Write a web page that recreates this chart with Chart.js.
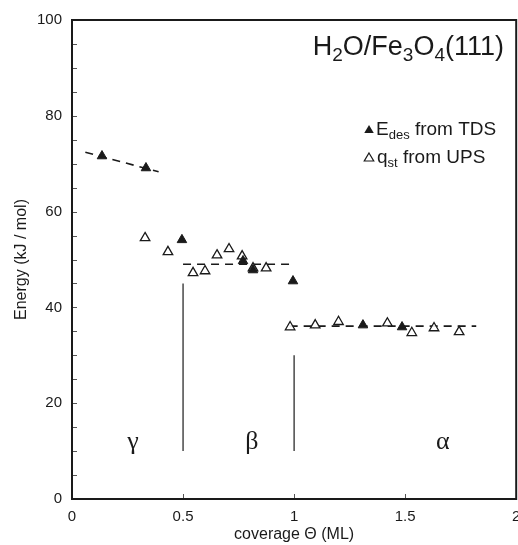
<!DOCTYPE html>
<html>
<head>
<meta charset="utf-8">
<script src="https://cdn.jsdelivr.net/npm/chart.js@4/dist/chart.umd.min.js"></script>
<style>
    html, body { margin: 0; padding: 0; background: #fff; overflow: hidden; }
    canvas { display: block; }
</style>
</head>
<body>
<canvas id="chart" width="523" height="545"></canvas>
<script>
// E_des from TDS (filled triangles)
const tdsX = [0.135, 0.333, 0.495, 0.77, 0.815, 0.995, 1.31, 1.486];
const tdsY = [71.6, 69.1, 54.1, 49.7, 47.8, 45.5, 36.3, 35.9];

// q_st from UPS (open triangles)
const upsX = [0.329, 0.432, 0.545, 0.599, 0.653, 0.707, 0.766, 0.815, 0.874, 0.982, 1.095, 1.2, 1.42, 1.53, 1.63, 1.743];
const upsY = [54.5, 51.6, 47.2, 47.6, 50.9, 52.2, 50.7, 48.2, 48.2, 35.9, 36.3, 37.0, 36.7, 34.7, 35.7, 34.9];

// dashed guide lines for the three phases
const gammaFitX = [0.06, 0.39];
const gammaFitY = [72.4, 68.3];
const betaFitX = [0.5, 1.0];
const betaFitY = [49, 49];
const alphaFitX = [0.98, 1.82];
const alphaFitY = [36.1, 36.1];

// vertical phase separators
const sep1X = [0.5, 0.5];
const sep1Y = [10, 45];
const sep2X = [1.0, 1.0];
const sep2Y = [10, 30];

// phase labels
const phaseNames = ['γ', 'β', 'α'];
const phaseX = [0.275, 0.81, 1.67];
const phaseY = [10.5, 10.5, 10.5];

const xTicks = [0, 0.5, 1, 1.5, 2];
const yMinorTicks = [5, 10, 15, 20, 25, 30, 35, 40, 45, 50, 55, 60, 65, 70, 75, 80, 85, 90, 95];

const ink = '#1a1a1a';
const sans = "'Liberation Sans', Arial, sans-serif";

function pts(xs, ys) {
    return xs.map((x, i) => ({ x: x, y: ys[i] }));
}

function lineSet(xs, ys, dashed) {
    return {
        type: 'line',
        data: pts(xs, ys),
        borderColor: ink,
        borderWidth: dashed ? 1.6 : 1.2,
        borderDash: dashed ? [8, 6] : [],
        pointRadius: 0,
        fill: false,
        order: 5
    };
}

// draw text made of normal and subscript runs
function drawRich(ctx, parts, x, y, size, align) {
    const subSize = Math.round(size * 0.7);
    let total = 0;
    parts.forEach(p => {
        ctx.font = (p.sub ? subSize : size) + 'px ' + sans;
        total += ctx.measureText(p.t).width;
    });
    let cx = align === 'right' ? x - total : x;
    ctx.textAlign = 'left';
    ctx.textBaseline = 'alphabetic';
    parts.forEach(p => {
        ctx.font = (p.sub ? subSize : size) + 'px ' + sans;
        ctx.fillText(p.t, cx, p.sub ? y + size * 0.22 : y);
        cx += ctx.measureText(p.t).width;
    });
}

function triangle(ctx, x, y, r, filled) {
    ctx.beginPath();
    ctx.moveTo(x, y - r);
    ctx.lineTo(x + r * 0.95, y + r * 0.6);
    ctx.lineTo(x - r * 0.95, y + r * 0.6);
    ctx.closePath();
    if (filled) {
        ctx.fillStyle = ink;
        ctx.fill();
    } else {
        ctx.lineWidth = 1.2;
        ctx.strokeStyle = ink;
        ctx.stroke();
    }
}

const decorations = {
    id: 'decorations',
    afterDraw(chart) {
        const ctx = chart.ctx;
        const area = chart.chartArea;
        const xs = chart.scales.x;
        const ys = chart.scales.y;
        ctx.save();

        // inner ticks
        ctx.strokeStyle = '#555';
        ctx.lineWidth = 1;
        yMinorTicks.forEach(v => {
            const py = Math.round(ys.getPixelForValue(v)) + 0.5;
            ctx.beginPath();
            ctx.moveTo(area.left, py);
            ctx.lineTo(area.left + 5, py);
            ctx.stroke();
        });
        xTicks.slice(1, -1).forEach(v => {
            const px = Math.round(xs.getPixelForValue(v)) + 0.5;
            ctx.beginPath();
            ctx.moveTo(px, area.bottom);
            ctx.lineTo(px, area.bottom - 5);
            ctx.stroke();
        });

        // frame
        ctx.strokeStyle = ink;
        ctx.lineWidth = 2;
        ctx.strokeRect(area.left, area.top, area.right - area.left, area.bottom - area.top);

        // title
        ctx.fillStyle = ink;
        drawRich(ctx, [
            { t: 'H' }, { t: '2', sub: true }, { t: 'O/Fe' }, { t: '3', sub: true },
            { t: 'O' }, { t: '4', sub: true }, { t: '(111)' }
        ], 504, 55, 27, 'right');

        // legend
        triangle(ctx, 369, 130, 5, true);
        ctx.fillStyle = ink;
        drawRich(ctx, [{ t: 'E' }, { t: 'des', sub: true }, { t: ' from TDS' }], 376, 135, 19, 'left');
        triangle(ctx, 369, 158, 5, false);
        ctx.fillStyle = ink;
        drawRich(ctx, [{ t: 'q' }, { t: 'st', sub: true }, { t: ' from UPS' }], 377, 163, 19, 'left');

        // phase labels
        ctx.font = "26px 'Liberation Serif', 'Times New Roman', serif";
        ctx.textAlign = 'center';
        ctx.textBaseline = 'alphabetic';
        phaseNames.forEach((name, i) => {
            ctx.fillText(name, xs.getPixelForValue(phaseX[i]), ys.getPixelForValue(phaseY[i]));
        });

        ctx.restore();
    }
};

const ctx = document.getElementById('chart').getContext('2d');

new Chart(ctx, {
    type: 'scatter',
    data: {
        datasets: [
            lineSet(gammaFitX, gammaFitY, true),
            lineSet(betaFitX, betaFitY, true),
            lineSet(alphaFitX, alphaFitY, true),
            lineSet(sep1X, sep1Y, false),
            lineSet(sep2X, sep2Y, false),
            {
                label: 'q_st from UPS',
                data: pts(upsX, upsY),
                pointStyle: 'triangle',
                pointRadius: 5.5,
                pointBackgroundColor: 'rgba(255,255,255,0.9)',
                pointBorderColor: ink,
                pointBorderWidth: 1.3,
                order: 2
            },
            {
                label: 'E_des from TDS',
                data: pts(tdsX, tdsY),
                pointStyle: 'triangle',
                pointRadius: 5.5,
                pointBackgroundColor: ink,
                pointBorderColor: ink,
                pointBorderWidth: 1,
                order: 1
            }
        ]
    },
    options: {
        responsive: false,
        animation: false,
        layout: { padding: { top: 20, right: 2, left: 0, bottom: 0 } },
        plugins: {
            legend: { display: false },
            tooltip: { enabled: false }
        },
        scales: {
            x: {
                type: 'linear',
                min: 0,
                max: 2,
                afterFit: scale => {
                    scale.height = 46;
                    scale.paddingLeft = 0;
                    scale.paddingRight = 0;
                },
                afterBuildTicks: scale => { scale.ticks = xTicks.map(v => ({ value: v })); },
                grid: { display: false, drawTicks: false },
                border: { display: false },
                ticks: {
                    color: ink,
                    padding: 9,
                    font: { family: sans, size: 15 },
                    callback: v => String(v)
                },
                title: {
                    display: true,
                    text: 'coverage Θ (ML)',
                    color: ink,
                    font: { family: sans, size: 16 },
                    padding: { top: 0, bottom: 1 }
                }
            },
            y: {
                type: 'linear',
                min: 0,
                max: 100,
                afterFit: scale => { scale.width = 72; },
                grid: { display: false, drawTicks: false },
                border: { display: false },
                ticks: {
                    stepSize: 20,
                    color: ink,
                    padding: 10,
                    font: { family: sans, size: 15 }
                },
                title: {
                    display: true,
                    text: 'Energy (kJ / mol)',
                    color: ink,
                    font: { family: sans, size: 16 },
                    padding: { top: 12, bottom: 0 }
                }
            }
        }
    },
    plugins: [decorations]
});
</script>
</body>
</html>
